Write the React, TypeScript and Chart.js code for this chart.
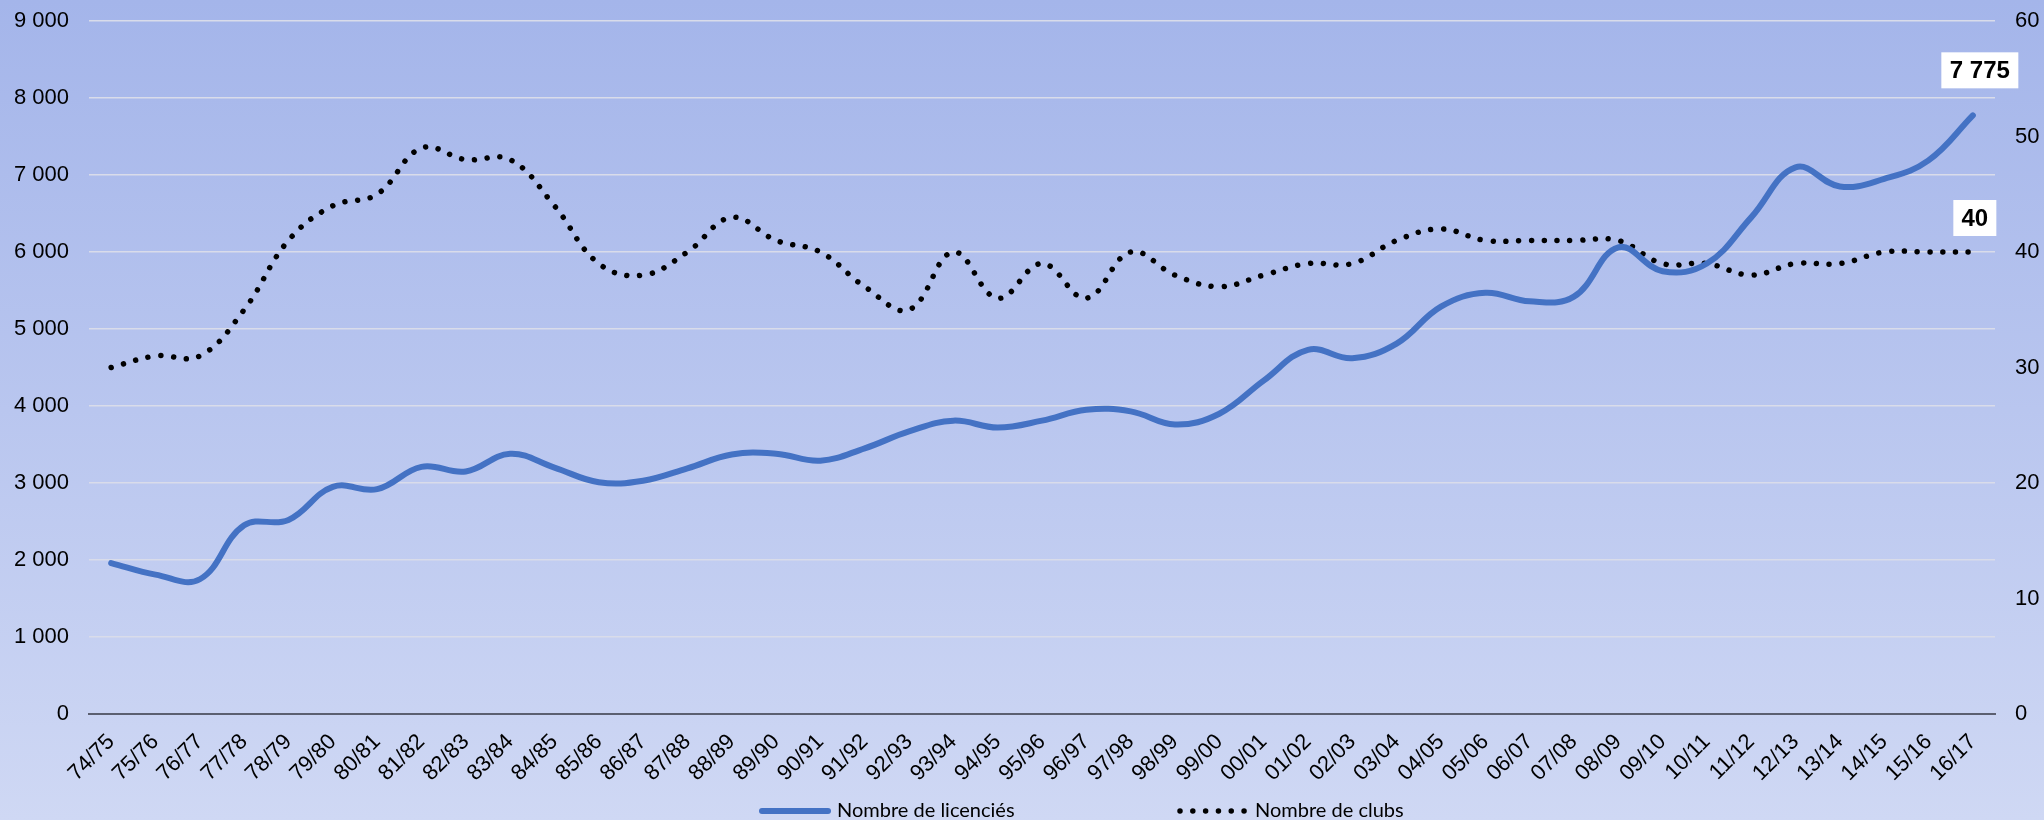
import React, { useEffect, useRef } from 'react';
import { Chart, registerables } from 'chart.js';

Chart.register(...registerables);

const seasons = [
  '74/75', '75/76', '76/77', '77/78', '78/79', '79/80', '80/81', '81/82', '82/83', '83/84',
  '84/85', '85/86', '86/87', '87/88', '88/89', '89/90', '90/91', '91/92', '92/93', '93/94',
  '94/95', '95/96', '96/97', '97/98', '98/99', '99/00', '00/01', '01/02', '02/03', '03/04',
  '04/05', '05/06', '06/07', '07/08', '08/09', '09/10', '10/11', '11/12', '12/13', '13/14',
  '14/15', '15/16', '16/17',
];

const licencies = [
  1960, 1810, 1750, 2450, 2520, 2950, 2920, 3210, 3150, 3380,
  3200, 3010, 3030, 3190, 3370, 3380, 3290, 3450, 3670, 3810,
  3720, 3810, 3950, 3930, 3760, 3900, 4330, 4730, 4620, 4810,
  5290, 5470, 5360, 5420, 6060, 5750, 5850, 6450, 7100, 6850,
  6950, 7190, 7775,
];

const clubs = [
  30, 31, 31, 35, 41, 44, 45, 49, 48, 48,
  44, 39, 38, 40, 43, 41, 40, 37, 35, 40,
  36, 39, 36, 40, 38, 37, 38, 39, 39, 41,
  42, 41, 41, 41, 41, 39, 39, 38, 39, 39,
  40, 40, 40,
];

const leftTicks = [0, 1000, 2000, 3000, 4000, 5000, 6000, 7000, 8000, 9000];
const rightTicks = [0, 10, 20, 30, 40, 50, 60];

const seriesNames = ['Nombre de licenciés', 'Nombre de clubs'];

const fmt = (v: number) => String(Math.round(v)).replace(/\B(?=(\d{3})+(?!\d))/g, ' ');

const BLUE = '#4472C4';
const TICK_FONT = 'Liberation Sans';

const lastValueLabels = {
  id: 'lastValueLabels',
  afterDatasetsDraw(chart: any) {
    const ctx = chart.ctx;
    const styles = [
      { dx: 7, dy: -45, w: 77, h: 36 },
      { dx: 2, dy: -34, w: 43, h: 36 },
    ];
    chart.data.datasets.forEach((ds: any, i: number) => {
      const meta = chart.getDatasetMeta(i);
      const last = meta.data[meta.data.length - 1];
      if (!last) return;
      const st = styles[i];
      const cx = last.x + st.dx;
      const cy = last.y + st.dy;
      ctx.save();
      ctx.fillStyle = '#ffffff';
      ctx.fillRect(cx - st.w / 2, cy - st.h / 2, st.w, st.h);
      ctx.fillStyle = '#000000';
      ctx.font = `bold 24px "${TICK_FONT}"`;
      ctx.textAlign = 'center';
      ctx.textBaseline = 'middle';
      ctx.fillText(fmt(ds.data[ds.data.length - 1]), cx, cy + 1);
      ctx.restore();
    });
  },
};

const customLegend = {
  id: 'customLegend',
  afterDraw(chart: any) {
    const ctx = chart.ctx;
    const y = 811;
    const items = [
      { x0: 762, x1: 828, tx: 837 },
      { x0: 1180, x1: 1248, tx: 1255 },
    ];
    chart.data.datasets.forEach((ds: any, i: number) => {
      const it = items[i];
      ctx.save();
      ctx.strokeStyle = ds.borderColor;
      ctx.lineWidth = ds.borderWidth;
      ctx.lineCap = 'round';
      ctx.setLineDash(ds.borderDash || []);
      ctx.beginPath();
      ctx.moveTo(it.x0, y);
      ctx.lineTo(it.x1, y);
      ctx.stroke();
      ctx.setLineDash([]);
      ctx.fillStyle = '#000000';
      ctx.font = '20px Lato';
      ctx.textAlign = 'left';
      ctx.textBaseline = 'middle';
      ctx.fillText(ds.label, it.tx, y);
      ctx.restore();
    });
  },
};

function fitY(width: number) {
  return (scale: any) => {
    scale.width = width;
    scale.paddingTop = 21;
    scale.paddingBottom = 0;
  };
}

export default function App() {
  const canvasRef = useRef<HTMLCanvasElement | null>(null);

  useEffect(() => {
    document.body.style.margin = '0';
    const canvas = canvasRef.current;
    if (!canvas) return;
    const chart = new Chart(canvas, {
      type: 'line',
      data: {
        labels: seasons,
        datasets: [
          {
            label: seriesNames[0],
            data: licencies,
            yAxisID: 'y',
            borderColor: BLUE,
            backgroundColor: BLUE,
            borderWidth: 6,
            borderCapStyle: 'round',
            borderJoinStyle: 'round',
            pointRadius: 0,
            pointHoverRadius: 0,
            tension: 0.4,
            fill: false,
          },
          {
            label: seriesNames[1],
            data: clubs,
            yAxisID: 'y1',
            borderColor: '#000000',
            backgroundColor: '#000000',
            borderWidth: 5.5,
            borderDash: [0.01, 12.8],
            borderCapStyle: 'round',
            borderJoinStyle: 'round',
            pointRadius: 0,
            pointHoverRadius: 0,
            tension: 0.4,
            fill: false,
          },
        ],
      },
      options: {
        animation: false,
        responsive: false,
        maintainAspectRatio: false,
        layout: { padding: { top: 0, left: 0, right: 0, bottom: 0 } },
        plugins: {
          legend: { display: false },
          tooltip: { enabled: false },
        },
        scales: {
          x: {
            type: 'category',
            offset: true,
            grid: { display: false, drawTicks: false },
            border: { display: true, color: '#5b5f70', width: 2 },
            ticks: {
              autoSkip: false,
              maxRotation: 45,
              minRotation: 45,
              padding: 15,
              color: '#000000',
              font: { family: TICK_FONT, size: 22 },
            },
            afterFit(scale: any) {
              scale.height = 106;
            },
          },
          y: {
            type: 'linear',
            position: 'left',
            min: 0,
            max: 9000,
            grid: { color: '#d9dcea', lineWidth: 1.5, drawTicks: false },
            border: { display: false },
            afterBuildTicks(scale: any) {
              scale.ticks = leftTicks.map((v) => ({ value: v }));
            },
            ticks: {
              padding: 20,
              color: '#000000',
              font: { family: TICK_FONT, size: 22 },
              callback: (v: any) => fmt(Number(v)),
            },
            afterFit: fitY(89),
          },
          y1: {
            type: 'linear',
            position: 'right',
            min: 0,
            max: 60,
            grid: { display: false, drawTicks: false },
            border: { display: false },
            afterBuildTicks(scale: any) {
              scale.ticks = rightTicks.map((v) => ({ value: v }));
            },
            ticks: {
              padding: 20,
              color: '#000000',
              font: { family: TICK_FONT, size: 22 },
              callback: (v: any) => fmt(Number(v)),
            },
            afterFit: fitY(49),
          },
        },
      },
      plugins: [lastValueLabels, customLegend],
    } as any);
    return () => {
      chart.destroy();
    };
  }, []);

  return (
    <div
      style={{
        width: 2044,
        height: 820,
        background: 'linear-gradient(to bottom, #a4b5ea 0%, #b9c6ef 50%, #cfd8f4 100%)',
      }}
    >
      <canvas ref={canvasRef} width={2044} height={820} style={{ display: 'block', width: 2044, height: 820 }} />
    </div>
  );
}
